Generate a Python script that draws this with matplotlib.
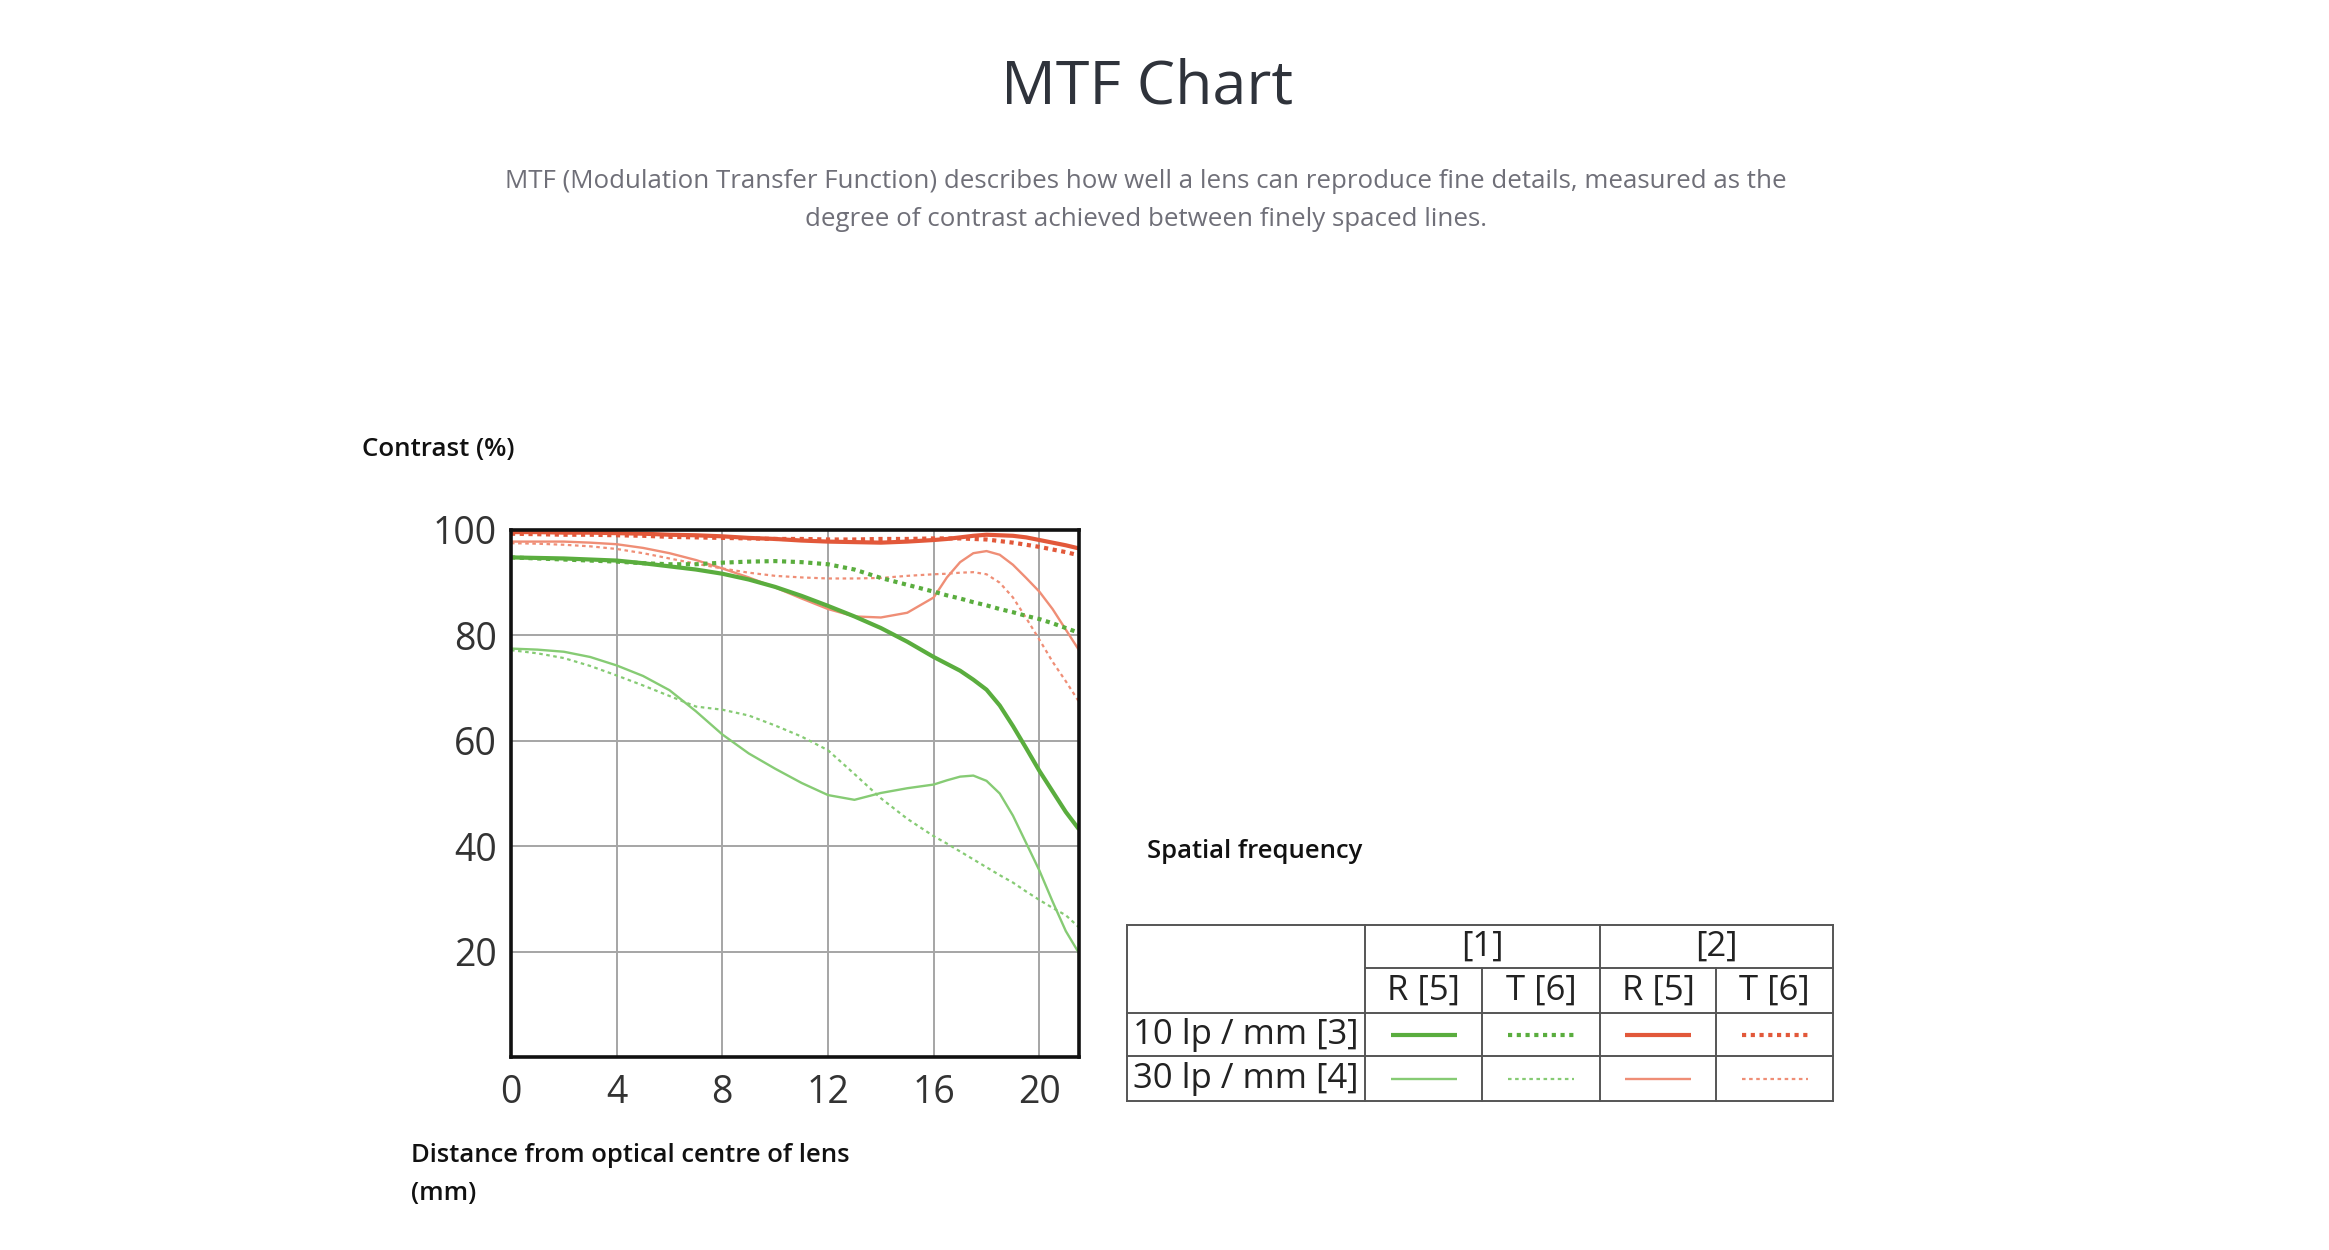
import matplotlib
matplotlib.use("Agg")
import matplotlib.pyplot as plt

plt.rcParams['font.family'] = ['Open Sans', 'DejaVu Sans']

# ---------------- data ----------------
x_mm = [0, 1, 2, 3, 4, 5, 6, 7, 8, 9, 10, 11, 12, 13, 14, 15, 16,
        16.5, 17, 17.5, 18, 18.5, 19, 19.5, 20, 20.5, 21, 21.5]

green_10_R = [94.8, 94.7, 94.6, 94.4, 94.2, 93.7, 93.1, 92.5, 91.7, 90.6, 89.2, 87.5, 85.6, 83.6, 81.4, 78.8, 75.9,
              74.6, 73.3, 71.6, 69.7, 66.7, 62.8, 58.6, 54.3, 50.4, 46.5, 43.2]
green_10_T = [94.8, 94.6, 94.4, 94.2, 94.0, 93.7, 93.5, 93.5, 93.8, 94.0, 94.1, 93.9, 93.5, 92.5, 90.9, 89.6, 88.3,
              87.6, 87.0, 86.3, 85.7, 85.0, 84.4, 83.7, 83.1, 82.3, 81.4, 80.5]
green_30_R = [77.5, 77.3, 76.9, 75.9, 74.3, 72.3, 69.6, 65.6, 61.2, 57.6, 54.7, 52.0, 49.7, 48.8, 50.1, 51.0, 51.7,
              52.5, 53.2, 53.4, 52.4, 50.0, 45.8, 40.6, 35.4, 29.5, 23.9, 19.7]
green_30_T = [77.2, 76.6, 75.7, 74.2, 72.4, 70.5, 68.5, 66.5, 65.9, 64.8, 62.9, 60.8, 58.2, 53.7, 49.1, 45.2, 41.9,
              40.5, 39.0, 37.5, 36.0, 34.5, 33.1, 31.4, 29.8, 28.3, 26.9, 24.6]
red_10_R = [99.6, 99.6, 99.5, 99.5, 99.4, 99.3, 99.1, 99.0, 98.8, 98.5, 98.3, 98.0, 97.8, 97.7, 97.6, 97.8, 98.1,
            98.3, 98.6, 98.9, 99.1, 99.0, 98.9, 98.6, 98.1, 97.6, 97.1, 96.5]
red_10_T = [99.3, 99.2, 99.1, 99.1, 99.0, 98.9, 98.7, 98.6, 98.5, 98.4, 98.3, 98.3, 98.2, 98.2, 98.3, 98.3, 98.4,
            98.4, 98.4, 98.3, 98.2, 97.9, 97.6, 97.2, 96.8, 96.3, 95.8, 95.2]
red_30_R = [97.8, 97.8, 97.8, 97.6, 97.3, 96.6, 95.6, 94.3, 92.7, 91.0, 89.1, 87.0, 85.0, 83.6, 83.4, 84.3, 87.2,
            91.0, 93.9, 95.6, 96.0, 95.3, 93.4, 90.9, 88.3, 85.0, 81.1, 77.2]
red_30_T = [97.5, 97.4, 97.2, 96.9, 96.4, 95.6, 94.6, 93.6, 92.7, 91.9, 91.3, 91.0, 90.8, 90.8, 90.9, 91.3, 91.6,
            91.7, 91.9, 92.0, 91.6, 90.0, 87.2, 83.3, 79.2, 75.0, 71.3, 67.4]

x_ticks = [0, 4, 8, 12, 16, 20]
y_ticks = [20, 40, 60, 80, 100]

title = "MTF Chart"
subtitle_lines = ["MTF (Modulation Transfer Function) describes how well a lens can reproduce fine details, measured as the",
                  "degree of contrast achieved between finely spaced lines."]
y_label = "Contrast (%)"
x_label_lines = ["Distance from optical centre of lens", "(mm)"]
legend_title = "Spatial frequency"
group_labels = ["[1]", "[2]"]
sub_labels = ["R [5]", "T [6]", "R [5]", "T [6]"]
row_labels = ["10 lp / mm [3]", "30 lp / mm [4]"]

# ---------------- styles ----------------
C_G10, C_G30 = '#5aad3e', '#86cb74'
C_R10, C_R30 = '#e2583a', '#ef8e76'
styles = {
    'g10R': dict(color=C_G10, lw=3.0, ls='-'),
    'g10T': dict(color=C_G10, lw=3.0, ls=(0, (1, 1.1)), dash_capstyle='butt'),
    'r10R': dict(color=C_R10, lw=3.0, ls='-'),
    'r10T': dict(color=C_R10, lw=3.0, ls=(0, (1, 1.1)), dash_capstyle='butt'),
    'g30R': dict(color=C_G30, lw=1.7, ls='-'),
    'g30T': dict(color=C_G30, lw=1.6, ls=(0, (1.6, 1.6)), dash_capstyle='butt'),
    'r30R': dict(color=C_R30, lw=1.7, ls='-'),
    'r30T': dict(color=C_R30, lw=1.6, ls=(0, (1.6, 1.6)), dash_capstyle='butt'),
}
series = [('g30T', green_30_T), ('g30R', green_30_R), ('r30T', red_30_T), ('r30R', red_30_R),
          ('g10T', green_10_T), ('g10R', green_10_R), ('r10T', red_10_T), ('r10R', red_10_R)]

W, H = 2329, 1250
fig = plt.figure(figsize=(W / 100, H / 100), dpi=100)
fig.patch.set_facecolor('white')

# ---------------- chart ----------------
ax_l, ax_r, ax_t, ax_b = 511, 1079, 530, 1057
ax = fig.add_axes([ax_l / W, 1 - ax_b / H, (ax_r - ax_l) / W, (ax_b - ax_t) / H])
for key, vals in series:
    ax.plot(x_mm, vals, **styles[key], solid_joinstyle='round', solid_capstyle='butt', zorder=3)
ax.set_xlim(0, 21.5)
ax.set_ylim(0, 100)
ax.set_xticks(x_ticks)
ax.set_yticks(y_ticks)
ax.grid(True, color='#a5a5a5', lw=1.4, zorder=1)
ax.tick_params(length=0, labelsize=27, labelcolor='#333333')
ax.tick_params(axis='y', pad=10)
ax.tick_params(axis='x', pad=12)
for s in ax.spines.values():
    s.set_linewidth(2.6)
    s.set_color('#111111')
    s.set_zorder(5)

# ---------------- overlay (pixel coords) ----------------
ov = fig.add_axes([0, 0, 1, 1], zorder=-1)
ov.set_xlim(0, W)
ov.set_ylim(H, 0)
ov.axis('off')

renderer = fig.canvas.get_renderer()


def fit(t, target):
    w = t.get_window_extent(renderer).width
    t.set_fontsize(t.get_fontsize() * target / w)


t = ov.text(1147, 104, title, ha='center', va='baseline', fontsize=44, color='#2f333b')
fit(t, 292)

s1 = ov.text(1146, 181, subtitle_lines[0], ha='center', va='center', fontsize=18, color='#6f6f78')
fit(s1, 1276)
s2 = ov.text(1146, 219, subtitle_lines[1], ha='center', va='center', fontsize=s1.get_fontsize(), color='#6f6f78')

LW = 'semibold'
yl = ov.text(362, 450, y_label, ha='left', va='center', fontsize=18, color='#111111', fontweight=LW)
fit(yl, 153)
xl1 = ov.text(411, 1156, x_label_lines[0], ha='left', va='center', fontsize=18, color='#111111', fontweight=LW)
fit(xl1, 440)
xl2 = ov.text(411, 1194, x_label_lines[1], ha='left', va='center', fontsize=xl1.get_fontsize(), color='#111111',
              fontweight=LW)
lt = ov.text(1147, 851, legend_title, ha='left', va='center', fontsize=xl1.get_fontsize(), color='#111111',
             fontweight=LW)

# ---------------- table legend ----------------
cols = [1127, 1365, 1482, 1600, 1716, 1833]
rows = [925, 968, 1013, 1056, 1101]
tc = dict(color='#555555', lw=1.4, solid_capstyle='projecting')
ov.plot([cols[0], cols[-1]], [rows[0], rows[0]], **tc)
ov.plot([cols[1], cols[-1]], [rows[1], rows[1]], **tc)
for r in rows[2:]:
    ov.plot([cols[0], cols[-1]], [r, r], **tc)
for c in (cols[0], cols[1], cols[3], cols[5]):
    ov.plot([c, c], [rows[0], rows[-1]], **tc)
for c in (cols[2], cols[4]):
    ov.plot([c, c], [rows[1], rows[-1]], **tc)

tfs = 25
for i, g in enumerate(group_labels):
    ov.text((cols[1 + 2 * i] + cols[3 + 2 * i]) / 2, (rows[0] + rows[1]) / 2, g,
            ha='center', va='center', fontsize=tfs, color='#222222')
for i, s in enumerate(sub_labels):
    ov.text((cols[1 + i] + cols[2 + i]) / 2, (rows[1] + rows[2]) / 2, s,
            ha='center', va='center', fontsize=tfs, color='#222222')
for j, rl in enumerate(row_labels):
    ov.text(cols[0] + 6, (rows[2 + j] + rows[3 + j]) / 2, rl, ha='left', va='center', fontsize=tfs, color='#222222')

legend_keys = [['g10R', 'g10T', 'r10R', 'r10T'], ['g30R', 'g30T', 'r30R', 'r30T']]
for j, keys in enumerate(legend_keys):
    yc = (rows[2 + j] + rows[3 + j]) / 2
    for i, k in enumerate(keys):
        xc = (cols[1 + i] + cols[2 + i]) / 2
        ov.plot([xc - 33, xc + 33], [yc, yc], **styles[k], solid_capstyle='butt')

fig.savefig('out.png', dpi=100, facecolor='white')
